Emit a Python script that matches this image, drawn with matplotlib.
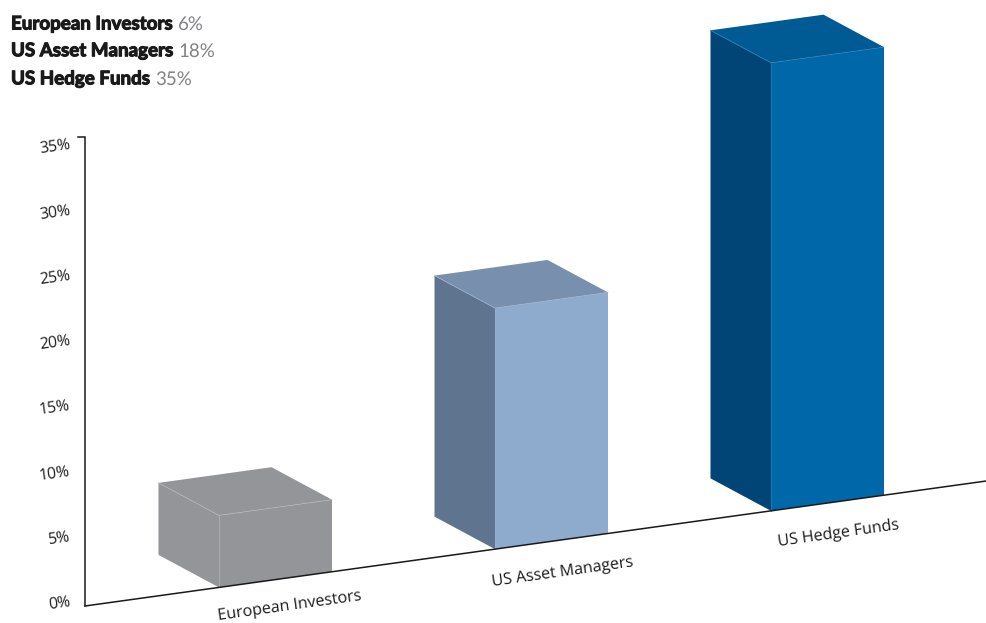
import matplotlib
matplotlib.use("Agg")
import matplotlib.pyplot as plt
import matplotlib.patheffects as pe
from matplotlib.patches import Polygon

plt.rcParams["text.hinting"] = "no_hinting"

# chart data
categories = ["European Investors", "US Asset Managers", "US Hedge Funds"]
shares = [6, 18, 35]                # printed in the heading
bar_heights = [5.5, 18.4, 34.2]
y_ticks = [0, 5, 10, 15, 20, 25, 30, 35]

front_colors = ["#939598", "#8eaacd", "#0068a9"]
side_colors = ["#939598", "#5f748f", "#004575"]
top_colors = ["#939598", "#7890ae", "#005a93"]
edge_colors = ["#b4b5b7", "#9db3d2", "#2a7db4"]

# projection of the fake 3d floor, in pixels
PX_PER_PCT = 13.1
ORIGIN = (85, 606)
SLOPE = -0.1387
BAR_STEP = 276
FIRST_BAR = 134
BAR_W = 113
DEPTH = (-60.5, -32.5)


def floor(x):
    return ORIGIN[0] + x, ORIGIN[1] + SLOPE * x


fig = plt.figure(figsize=(9.86, 6.23), dpi=100)
ax = fig.add_axes([0, 0, 1, 1])
ax.set_xlim(0, 986)
ax.set_ylim(623, 0)
ax.axis("off")

# bars
for i, h in enumerate(bar_heights):
    x0, y0 = floor(FIRST_BAR + i * BAR_STEP)
    x1, y1 = floor(FIRST_BAR + i * BAR_STEP + BAR_W)
    up = h * PX_PER_PCT
    dx, dy = DEPTH
    side = [(x0 + dx, y0 + dy), (x0, y0), (x0, y0 - up), (x0 + dx, y0 + dy - up)]
    front = [(x0, y0), (x1, y1), (x1, y1 - up), (x0, y0 - up)]
    top = [(x0, y0 - up), (x1, y1 - up), (x1 + dx, y1 + dy - up), (x0 + dx, y0 + dy - up)]
    ax.add_patch(Polygon(side, fc=side_colors[i], ec="none", zorder=2))
    ax.add_patch(Polygon(front, fc=front_colors[i], ec="none", zorder=2))
    ax.add_patch(Polygon(top, fc=top_colors[i], ec="none", zorder=2))
    # thin light line along the shared edges
    ax.plot([x0 + dx, x0, x1], [y0 + dy - up, y0 - up, y1 - up], color=edge_colors[i], lw=0.5, zorder=3)
    ax.plot([x0, x0], [y0, y0 - up], color=edge_colors[i], lw=0.5, zorder=3)

# axes lines
ax.plot([78, 85, 85], [137, 137, ORIGIN[1]], color="#1a1a1a", lw=1.1, zorder=4, solid_joinstyle="miter")
end_x, end_y = floor(901)
ax.plot([ORIGIN[0], end_x], [ORIGIN[1], end_y], color="#1a1a1a", lw=1.1, zorder=4)

# y tick labels
for t in y_ticks:
    ax.text(70, 601.5 - t * 13.05, f"{t}%", ha="right", va="center", rotation=8,
            rotation_mode="anchor", fontsize=11.3, family="Open Sans", color="#1a1a1a")

# category labels
label_xy = [(290, 606), (563, 572), (838, 534)]
for name, (lx, ly) in zip(categories, label_xy):
    ax.text(lx, ly, name, ha="center", va="center", rotation=8, rotation_mode="anchor",
            fontsize=11.5, family="Open Sans", color="#1a1a1a")

# heading
for name, share, y in zip(categories, shares, [24, 51, 79]):
    t = ax.text(11, y, name, ha="left", va="center", fontsize=13.5, family="Lato",
                weight="bold", color="#1a1a1a",
                path_effects=[pe.withStroke(linewidth=0.8, foreground="#1a1a1a")])
    fig.canvas.draw()
    w = t.get_window_extent().x1
    ax.text(w + 5, y, f"{share}%", ha="left", va="center", fontsize=13.5, family="Lato",
            weight="normal", color="#808285")

fig.savefig("out.png", dpi=100)
